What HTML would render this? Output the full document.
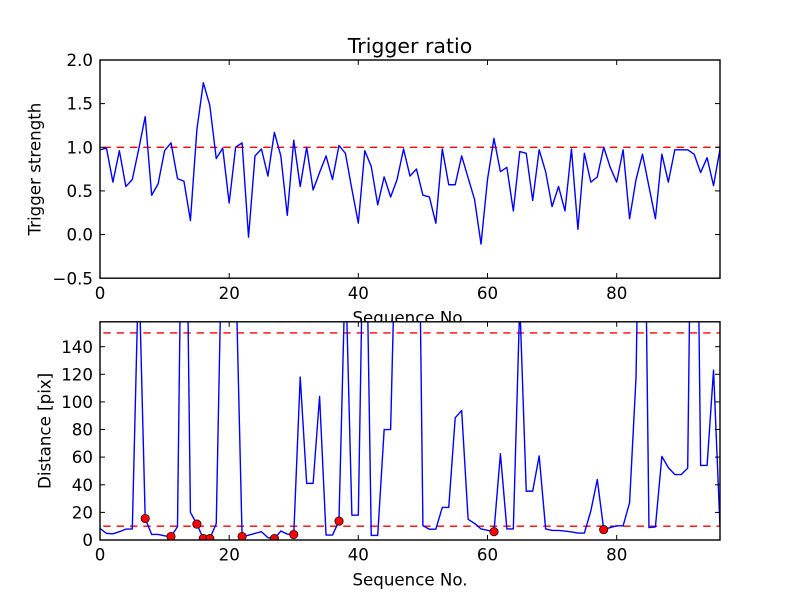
<!DOCTYPE html>
<html>
<head>
<meta charset="utf-8">
<style>
html,body{margin:0;padding:0;background:#fff;}
svg{display:block;}
text{font-family:"DejaVu Sans","Liberation Sans",sans-serif;fill:#000;}
</style>
</head>
<body>
<svg width="800" height="600" viewBox="0 0 800 600" xmlns="http://www.w3.org/2000/svg">
<defs>
<clipPath id="c1"><rect x="100" y="60" width="620" height="218.2"/></clipPath>
<clipPath id="c2"><rect x="100" y="321.8" width="620" height="218.2"/></clipPath>
</defs>
<rect x="0" y="0" width="800" height="600" fill="#fff"/>

<!-- ========== TOP AXES ========== -->
<rect x="100" y="60" width="620" height="218.2" fill="#fff"/>
<g clip-path="url(#c1)">
  <line x1="100" y1="147.3" x2="720" y2="147.3" stroke="#ff0000" stroke-width="1.4" stroke-dasharray="7.4 5.93" stroke-dashoffset="10"/>
  <g transform="translate(100,234.5) scale(6.4583,-87.27)">
    <polyline fill="none" stroke="#0000ff" stroke-width="1.4" vector-effect="non-scaling-stroke" stroke-linejoin="round"
      points="0,0.97 1,0.99 2,0.60 3,0.96 4,0.55 5,0.63 6,0.98 7,1.35 8,0.45 9,0.58 10,0.96 11,1.05 12,0.64 13,0.61 14,0.16 15,1.20 16,1.74 17,1.48 18,0.87 19,0.99 20,0.36 21,1.00 22,1.05 23,-0.03 24,0.90 25,0.98 26,0.67 27,1.17 28,0.90 29,0.22 30,1.08 31,0.55 32,1.00 33,0.51 34,0.71 35,0.90 36,0.63 37,1.02 38,0.93 39,0.52 40,0.13 41,0.96 42,0.78 43,0.34 44,0.66 45,0.43 46,0.63 47,0.98 48,0.67 49,0.75 50,0.45 51,0.43 52,0.13 53,0.98 54,0.57 55,0.57 56,0.90 57,0.65 58,0.40 59,-0.11 60,0.63 61,1.10 62,0.72 63,0.77 64,0.27 65,0.95 66,0.93 67,0.39 68,0.97 69,0.72 70,0.32 71,0.55 72,0.27 73,0.98 74,0.06 75,0.93 76,0.60 77,0.66 78,1.00 79,0.77 80,0.60 81,0.97 82,0.18 83,0.63 84,0.92 85,0.55 86,0.18 87,0.92 88,0.60 89,0.97 90,0.97 91,0.97 92,0.92 93,0.71 94,0.88 95,0.56 96,0.98"/>
  </g>
</g>
<!-- ticks top axes -->
<g stroke="#000" stroke-width="1">
  <line x1="229.2" y1="278.2" x2="229.2" y2="273"/><line x1="358.3" y1="278.2" x2="358.3" y2="273"/><line x1="487.5" y1="278.2" x2="487.5" y2="273"/><line x1="616.7" y1="278.2" x2="616.7" y2="273"/>
  <line x1="229.2" y1="60" x2="229.2" y2="65"/><line x1="358.3" y1="60" x2="358.3" y2="65"/><line x1="487.5" y1="60" x2="487.5" y2="65"/><line x1="616.7" y1="60" x2="616.7" y2="65"/>
  <line x1="100" y1="103.6" x2="105" y2="103.6"/><line x1="100" y1="147.3" x2="105" y2="147.3"/><line x1="100" y1="190.9" x2="105" y2="190.9"/><line x1="100" y1="234.5" x2="105" y2="234.5"/>
  <line x1="720" y1="103.6" x2="715" y2="103.6"/><line x1="720" y1="147.3" x2="715" y2="147.3"/><line x1="720" y1="190.9" x2="715" y2="190.9"/><line x1="720" y1="234.5" x2="715" y2="234.5"/>
</g>
<rect x="100" y="60" width="620" height="218.2" fill="none" stroke="#000" stroke-width="1.4"/>
<!-- tick labels top -->
<g font-size="16.67" text-anchor="end">
  <text x="93" y="66.1">2.0</text>
  <text x="93" y="109.7">1.5</text>
  <text x="93" y="153.4">1.0</text>
  <text x="93" y="197">0.5</text>
  <text x="93" y="240.6">0.0</text>
  <text x="93" y="284.3">−0.5</text>
</g>
<g font-size="16.67" text-anchor="middle">
  <text x="100" y="299">0</text>
  <text x="229.2" y="299">20</text>
  <text x="358.3" y="299">40</text>
  <text x="487.5" y="299">60</text>
  <text x="616.7" y="299">80</text>
  <text x="410" y="323.5">Sequence No.</text>
</g>
<text x="410" y="53" font-size="20.5" text-anchor="middle">Trigger ratio</text>
<text transform="translate(40.5,169.1) rotate(-90)" font-size="16.67" text-anchor="middle">Trigger strength</text>

<!-- ========== BOTTOM AXES ========== -->
<rect x="100" y="321.8" width="620" height="218.2" fill="#fff"/>
<g clip-path="url(#c2)">
  <line x1="100" y1="332.9" x2="720" y2="332.9" stroke="#ff0000" stroke-width="1.4" stroke-dasharray="7.4 5.93" stroke-dashoffset="10"/>
  <line x1="100" y1="526.2" x2="720" y2="526.2" stroke="#ff0000" stroke-width="1.4" stroke-dasharray="7.4 5.93" stroke-dashoffset="10"/>
  <g transform="translate(100,540) scale(6.4583,-1.381)">
    <polyline fill="none" stroke="#0000ff" stroke-width="1.4" vector-effect="non-scaling-stroke" stroke-linejoin="round"
      points="0,8.4 1,4.8 2,4.5 3,6 4,7.9 5,8 6,200 7,15.6 8,4 9,4 10,3 11,2.5 12,9.6 13,400 14,20 15,11.5 16,1 17,1 18,11.8 19,250 20,250 21,200 22,2.5 23,3.5 24,4.8 25,6 26,1.7 27,1 28,6.5 29,4.3 30,4 31,118 32,41 33,41 34,104 35,3.6 36,3.6 37,13.7 38,200 39,18 40,18 41,300 42,3.3 43,3.3 44,80 45,80 46,270 47,300 48,300 49,400 50,10.4 51,7.8 52,7.8 53,23.6 54,23.6 55,88.5 56,93.8 57,15 58,12 59,8 60,7 61,6 62,62.5 63,8 64,8 65,172 66,35.4 67,35.4 68,60.9 69,8 70,6.9 71,6.9 72,6.5 73,5.8 74,5 75,5 76,21 77,43.8 78,7.5 79,9 80,10.3 81,10.3 82,27 83,118 84,400 85,9 86,9.5 87,60.5 88,52.4 89,47.4 90,47.4 91,52 92,450 93,54 94,54 95,123 96,9.5"/>
  </g>
  <g fill="#ff0000" stroke="#000" stroke-width="0.7">
    <circle cx="145.2" cy="518.5" r="4.2"/>
    <circle cx="171.0" cy="536.5" r="4.2"/>
    <circle cx="196.9" cy="524.1" r="4.2"/>
    <circle cx="203.3" cy="538.6" r="4.2"/>
    <circle cx="209.8" cy="538.6" r="4.2"/>
    <circle cx="242.1" cy="536.5" r="4.2"/>
    <circle cx="274.4" cy="538.6" r="4.2"/>
    <circle cx="293.7" cy="534.5" r="4.2"/>
    <circle cx="339.0" cy="521.1" r="4.2"/>
    <circle cx="494.0" cy="531.7" r="4.2"/>
    <circle cx="603.7" cy="529.6" r="4.2"/>
  </g>
</g>
<!-- ticks bottom axes -->
<g stroke="#000" stroke-width="1">
  <line x1="229.2" y1="540" x2="229.2" y2="535"/><line x1="358.3" y1="540" x2="358.3" y2="535"/><line x1="487.5" y1="540" x2="487.5" y2="535"/><line x1="616.7" y1="540" x2="616.7" y2="535"/>
  <line x1="229.2" y1="321.8" x2="229.2" y2="326.8"/><line x1="358.3" y1="321.8" x2="358.3" y2="326.8"/><line x1="487.5" y1="321.8" x2="487.5" y2="326.8"/><line x1="616.7" y1="321.8" x2="616.7" y2="326.8"/>
  <line x1="100" y1="512.4" x2="105" y2="512.4"/><line x1="100" y1="484.8" x2="105" y2="484.8"/><line x1="100" y1="457.1" x2="105" y2="457.1"/><line x1="100" y1="429.5" x2="105" y2="429.5"/><line x1="100" y1="401.9" x2="105" y2="401.9"/><line x1="100" y1="374.3" x2="105" y2="374.3"/><line x1="100" y1="346.7" x2="105" y2="346.7"/>
  <line x1="720" y1="512.4" x2="715" y2="512.4"/><line x1="720" y1="484.8" x2="715" y2="484.8"/><line x1="720" y1="457.1" x2="715" y2="457.1"/><line x1="720" y1="429.5" x2="715" y2="429.5"/><line x1="720" y1="401.9" x2="715" y2="401.9"/><line x1="720" y1="374.3" x2="715" y2="374.3"/><line x1="720" y1="346.7" x2="715" y2="346.7"/>
</g>
<rect x="100" y="321.8" width="620" height="218.2" fill="none" stroke="#000" stroke-width="1.4"/>
<g font-size="16.67" text-anchor="end">
  <text x="93" y="546.1">0</text>
  <text x="93" y="518.5">20</text>
  <text x="93" y="490.9">40</text>
  <text x="93" y="463.2">60</text>
  <text x="93" y="435.6">80</text>
  <text x="93" y="408">100</text>
  <text x="93" y="380.4">120</text>
  <text x="93" y="352.8">140</text>
</g>
<g font-size="16.67" text-anchor="middle">
  <text x="100" y="560.5">0</text>
  <text x="229.2" y="560.5">20</text>
  <text x="358.3" y="560.5">40</text>
  <text x="487.5" y="560.5">60</text>
  <text x="616.7" y="560.5">80</text>
  <text x="410" y="585.5">Sequence No.</text>
</g>
<text transform="translate(50.5,430.9) rotate(-90)" font-size="16.67" text-anchor="middle">Distance [pix]</text>
</svg>
</body>
</html>
